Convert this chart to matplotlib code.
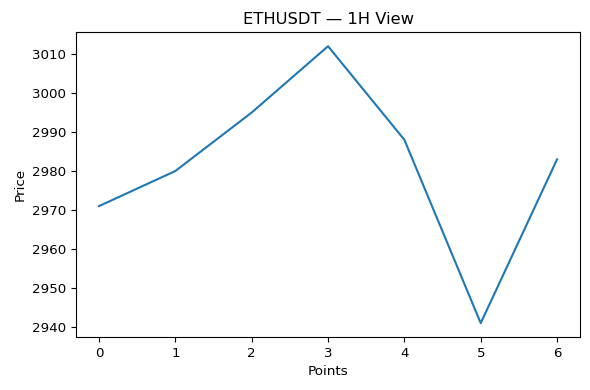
import matplotlib
matplotlib.use("Agg")
import matplotlib.pyplot as plt

points = [0, 1, 2, 3, 4, 5, 6]
prices = [2971, 2980, 2995, 3012, 2988, 2941, 2983]

fig = plt.figure(figsize=(5.9, 3.9), dpi=100)
ax = fig.add_axes([0.129, 0.136, 0.854, 0.781])
ax.plot(points, prices, color="#1f77b4")
ax.set_title("ETHUSDT — 1H View", fontsize=11.8)
ax.set_xlabel("Points", fontsize=9.7)
ax.set_ylabel("Price", fontsize=9.7)
ax.tick_params(labelsize=9.6)
fig.savefig("out.png", dpi=100)
